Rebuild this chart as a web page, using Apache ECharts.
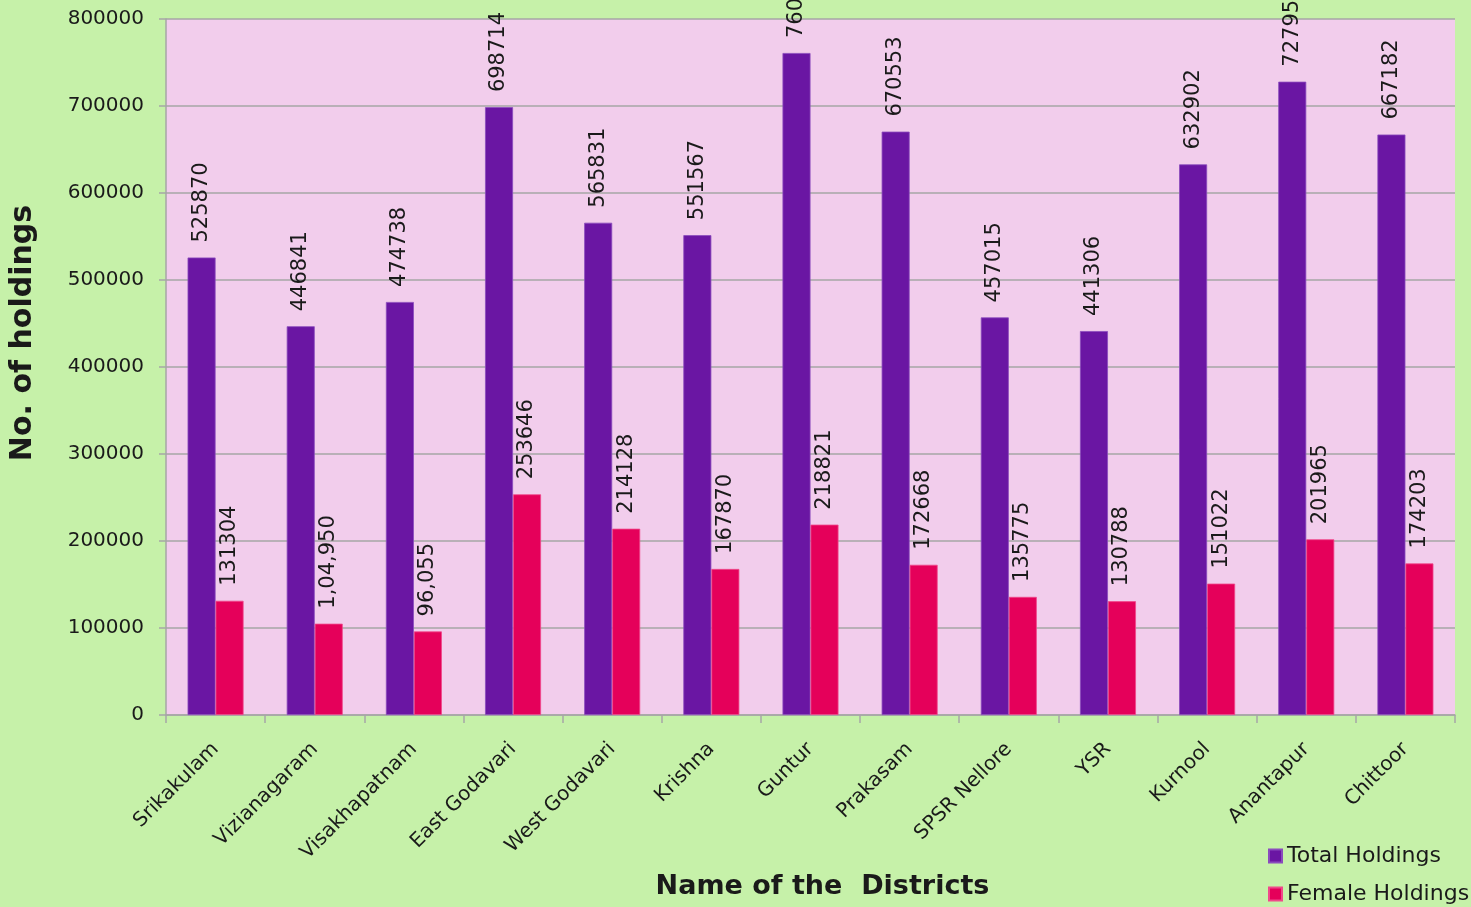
<!DOCTYPE html>
<html>
<head>
<meta charset="utf-8">
<script src="https://cdn.jsdelivr.net/npm/echarts@6/dist/echarts.min.js"></script>
<style>
html,body{margin:0;padding:0;background:#c6f1a9;}
#chart{width:1471px;height:907px;}
</style>
</head>
<body>
<div id="chart"></div>
<script>
const districts = ["Srikakulam","Vizianagaram","Visakhapatnam","East Godavari","West Godavari","Krishna","Guntur","Prakasam","SPSR Nellore","YSR","Kurnool","Anantapur","Chittoor"];
const totalHoldings = [525870,446841,474738,698714,565831,551567,760920,670553,457015,441306,632902,727950,667182];
const femaleHoldings = [131304,104950,96055,253646,214128,167870,218821,172668,135775,130788,151022,201965,174203];
const totalLabels = ["525870","446841","474738","698714","565831","551567","760","670553","457015","441306","632902","72795","667182"];
const femaleLabels = ["131304","1,04,950","96,055","253646","214128","167870","218821","172668","135775","130788","151022","201965","174203"];
const seriesNames = ["Total Holdings","Female Holdings"];
const yTicks = {min:0, max:800000, interval:100000};

const chart = echarts.init(document.getElementById('chart'), null, {renderer:'canvas'});
const font = 'DejaVu Sans';
const labelBase = {show:true, position:'top', rotate:90, align:'left', verticalAlign:'middle', distance:15, fontFamily:font, fontSize:21, color:'#1a1a1a'};
chart.setOption({
  backgroundColor:'#c6f1a9',
  animation:false,
  grid:{left:166, top:19, right:16, bottom:192, show:true, backgroundColor:'#f2cdec', borderWidth:0},
  legend:{
    orient:'vertical', left:1268, top:845, height:70, padding:0, itemWidth:13, itemHeight:13, itemGap:16, icon:'rect',
    textStyle:{fontFamily:font, fontSize:22, color:'#1a1a1a'},
    data:seriesNames
  },
  xAxis:{
    type:'category', data:districts,
    name:'Name of the  Districts', nameLocation:'middle', nameGap:158,
    nameTextStyle:{fontFamily:font, fontSize:27, fontWeight:'bold', color:'#1a1a1a', padding:[0,0,0,24]},
    axisLine:{lineStyle:{color:'#a6a6a6', width:1.5}},
    axisTick:{show:true, alignWithLabel:false, length:8, lineStyle:{color:'#a6a6a6', width:1.5}},
    axisLabel:{rotate:45, fontFamily:font, fontSize:20, color:'#1a1a1a', margin:31, interval:0}
  },
  yAxis:{
    type:'value', min:yTicks.min, max:yTicks.max, interval:yTicks.interval,
    name:'No. of holdings', nameLocation:'middle', nameGap:128, nameRotate:90,
    nameTextStyle:{fontFamily:font, fontSize:30, fontWeight:'bold', color:'#1a1a1a', padding:[0,0,0,68]},
    axisLine:{show:true, lineStyle:{color:'#a6a6a6', width:1.5}},
    axisTick:{show:true, length:7, lineStyle:{color:'#a6a6a6', width:1.5}},
    axisLabel:{fontFamily:font, fontSize:20, color:'#1a1a1a', margin:22, formatter:v=>String(v)},
    splitLine:{show:true, lineStyle:{color:'#a6a6a6', width:1.5}}
  },
  series:[
    {name:seriesNames[0], type:'bar', data:totalHoldings, barWidth:28, barGap:'0%',
     itemStyle:{color:'#6a16a3', borderColor:'#8a4bbd', borderWidth:0.8},
     label:Object.assign({}, labelBase, {formatter:p=>totalLabels[p.dataIndex]})},
    {name:seriesNames[1], type:'bar', data:femaleHoldings, barWidth:28, barGap:'0%',
     itemStyle:{color:'#e5005a', borderColor:'#f0488a', borderWidth:0.8},
     label:Object.assign({}, labelBase, {formatter:p=>femaleLabels[p.dataIndex]})}
  ]
});
</script>
</body>
</html>
